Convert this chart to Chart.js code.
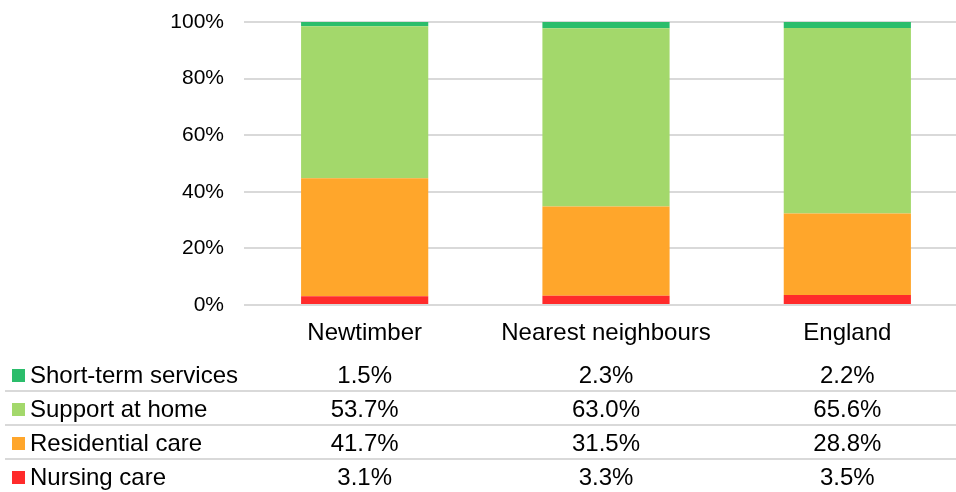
<!DOCTYPE html>
<html>
<head>
<meta charset="utf-8">
<script src="https://cdn.jsdelivr.net/npm/chart.js@4/dist/chart.umd.min.js"></script>
<style>
  html, body { margin: 0; padding: 0; background: #fff; overflow: hidden; }
  #wrap { position: relative; width: 968px; height: 492px; }
</style>
</head>
<body>
<div id="wrap"><canvas id="careChart"></canvas></div>
<script>
// categories and series (percent of total)
const categories = ['Newtimber', 'Nearest neighbours', 'England'];
const shortTerm = [1.5, 2.3, 2.2];
const supportAtHome = [53.7, 63.0, 65.6];
const residentialCare = [41.7, 31.5, 28.8];
const nursingCare = [3.1, 3.3, 3.5];
const yTickValues = [0, 20, 40, 60, 80, 100];

const FONT = '"Liberation Sans", Arial, sans-serif';

// data table drawn under the axis, columns lined up with the bars
const dataTablePlugin = {
  id: 'dataTable',
  afterDraw(chart) {
    const ctx = chart.ctx;
    const xScale = chart.scales.x;
    const sets = chart.data.datasets.slice().reverse();
    ctx.save();
    ctx.font = '24px ' + FONT;
    sets.forEach((ds, i) => {
      const baseline = 383 + 34 * i;
      ctx.fillStyle = ds.backgroundColor;
      ctx.fillRect(12, baseline - 14, 13, 13);
      ctx.fillStyle = '#000';
      ctx.textAlign = 'left';
      ctx.textBaseline = 'alphabetic';
      ctx.fillText(ds.label, 30, baseline);
      ctx.textAlign = 'center';
      ds.data.forEach((v, j) => {
        ctx.fillText(v.toFixed(1) + '%', xScale.getPixelForValue(j), baseline);
      });
      if (i < sets.length - 1) {
        ctx.strokeStyle = '#d9d9d9';
        ctx.lineWidth = 2;
        ctx.beginPath();
        ctx.moveTo(5, baseline + 8);
        ctx.lineTo(chart.width, baseline + 8);
        ctx.stroke();
      }
    });
    ctx.restore();
  }
};

new Chart(document.getElementById('careChart'), {
  type: 'bar',
  data: {
    labels: categories,
    datasets: [
      { label: 'Nursing care', data: nursingCare, backgroundColor: '#ff2b2b' },
      { label: 'Residential care', data: residentialCare, backgroundColor: '#ffa62b' },
      { label: 'Support at home', data: supportAtHome, backgroundColor: '#a3d86b' },
      { label: 'Short-term services', data: shortTerm, backgroundColor: '#2bbd6b' }
    ]
  },
  options: {
    responsive: true,
    maintainAspectRatio: false,
    animation: false,
    layout: { padding: { top: 22, left: 0, right: 0, bottom: 0 } },
    datasets: {
      bar: { barPercentage: 0.527, categoryPercentage: 1, borderWidth: 0 }
    },
    plugins: {
      legend: { display: false },
      tooltip: { enabled: false }
    },
    scales: {
      x: {
        stacked: true,
        grid: { display: false },
        border: { display: false },
        ticks: { color: '#000', font: { family: FONT, size: 24 }, padding: 6, maxRotation: 0 },
        afterFit(scale) { scale.height = 187; }
      },
      y: {
        stacked: true,
        min: 0,
        max: 100,
        afterBuildTicks(scale) { scale.ticks = yTickValues.map(v => ({ value: v })); },
        grid: { color: '#d9d9d9', lineWidth: 2, drawTicks: false },
        border: { display: false },
        ticks: {
          color: '#000',
          font: { family: FONT, size: 21 },
          padding: 20,
          callback: v => v + '%'
        },
        afterFit(scale) {
          scale.width = 244;
          // the tick padding is horizontal gap only, not extra room above/below
          scale.paddingTop = 0;
          scale.paddingBottom = 0;
        }
      }
    }
  },
  plugins: [dataTablePlugin]
});
</script>
</body>
</html>
